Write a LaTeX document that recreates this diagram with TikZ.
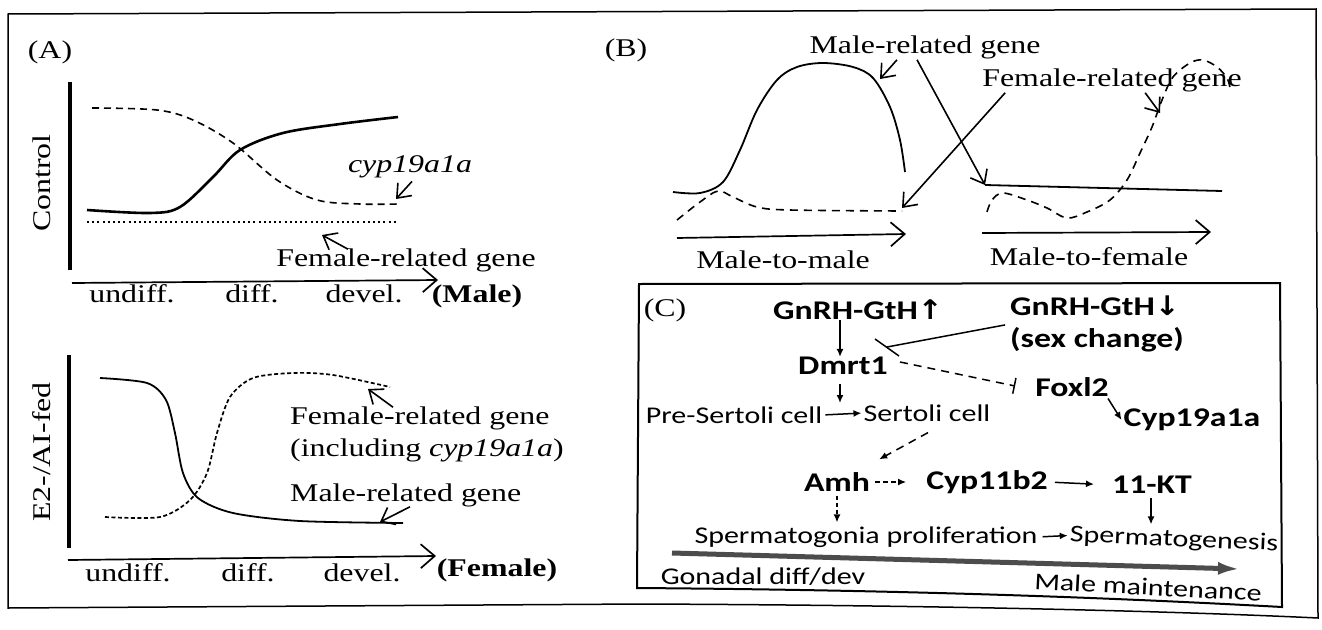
\documentclass[tikz,border=0pt]{standalone}
\usepackage{fontspec}
\setmainfont{Liberation Serif}[FakeStretch=1.25]
\newfontfamily\calfont{Carlito}[FakeStretch=1.25]
\newfontfamily\symfont{DejaVu Sans}[FakeStretch=1.1]
\usetikzlibrary{arrows.meta,calc}

\begin{document}
\begin{tikzpicture}[x=1pt,y=-1pt,
  serif/.style={font=\fontsize{25.5}{31}\selectfont, inner sep=0pt},
  bsans/.style={font=\calfont\bfseries\fontsize{27}{32}\selectfont, inner sep=0pt},
  rsans/.style={font=\calfont\fontsize{24}{28}\selectfont, inner sep=0pt},
  barb/.style={-{Straight Barb[length=12pt,width=19pt]}, line width=1.6pt},
  axisarrow/.style={-{Straight Barb[length=14pt,width=24pt]}, line width=1.7pt},
  yaxis/.style={line width=4pt},
  curve/.style={line width=1.8pt},
  thickcurve/.style={line width=2.6pt},
  dashA/.style={line width=1.6pt, dash pattern=on 7pt off 5pt},
  dashB/.style={line width=1.7pt, dash pattern=on 4pt off 2.5pt},
  dashC/.style={line width=1.6pt, dash pattern=on 8pt off 6pt},
  arrC/.style={-{Latex[length=8pt,width=7pt]}, line width=1.5pt},
  inhib/.style={-{Bar[width=16pt]}, line width=1.5pt},
]
\useasboundingbox (0,0) rectangle (1322,629);
\fill[white] (0,0) rectangle (1322,629);

% outer frame of the figure
\draw[line width=1.5pt] (8,14) -- (1316,9) -- (1318,618)
  .. controls (1150,610) and (900,605) .. (640,604) -- (8,608) -- cycle;

% ---------------- panel A, control ----------------
\node[serif] (labA) at (50,52) {(A)};
\draw[yaxis] (70,82) -- (70,270);
\node[serif, rotate=90] (ctrl) at (42,183) {Control};
\draw[dashA] plot[smooth, tension=0.55] coordinates
  {(92,108) (157,110) (193,120) (233,143) (277,180) (317,200) (360,204) (398,204)};
\draw[thickcurve] plot[smooth, tension=0.55] coordinates
  {(87,210) (150,213) (180,207) (213,177) (240,150) (283,133) (340,124) (398,117)};
\draw[line width=2pt, dash pattern=on 2pt off 3.2pt] (87,222) -- (398,222);
\coordinate (cypP) at (396,199);
\coordinate (femP) at (322,235);
\node[serif] (cyp) at (410,167) {\itshape cyp19a1a};
\draw[barb] ([xshift=2pt,yshift=-3pt]cyp.south) -- (cypP);
\node[serif] (femA) at (406,260) {Female-related gene};
\draw[barb] ([xshift=-58pt,yshift=-1pt]femA.north) -- (femP);
\coordinate (a1s) at (72,283);
\coordinate (a1e) at (438,280);
\draw[axisarrow] (a1s) -- (a1e);
\node[serif] (u1) at (132,294) {undiff.};
\node[serif] (d1) at (252,294) {diff.};
\node[serif] (v1) at (364,294) {devel.};
\node[serif, font=\bfseries\fontsize{25.5}{31}\selectfont] (male) at (477,296) {(Male)};

% ---------------- panel A, E2-/AI-fed ----------------
\draw[yaxis] (69,355) -- (69,548);
\node[serif, rotate=90] (e2) at (42,452) {E2-/AI-fed};
\draw[curve] plot[smooth, tension=0.5] coordinates
  {(100,378) (147,383) (166,400) (175,433) (183,473) (198,498) (233,513) (300,521) (403,523)};
\draw[dashB] plot[smooth, tension=0.5] coordinates
  {(105,517) (160,517) (190,500) (207,473) (217,433) (230,397) (253,378) (293,373) (333,375) (390,387)};
\node[serif, anchor=west] (femB) at (290,418) {Female-related gene};
\node[serif, anchor=west] (incl) at (290,450) {(including \textit{cyp19a1a})};
\node[serif, anchor=west] (maleB) at (290,495) {Male-related gene};
\coordinate (femBP) at (368,389);
\coordinate (maleBP) at (380,522);
\draw[barb] ([xshift=103pt,yshift=-1pt]femB.north west) -- (femBP);
\draw[barb] ([xshift=120pt,yshift=0pt]maleB.south west) -- (maleBP);
\coordinate (a2s) at (68,560);
\coordinate (a2e) at (436,556);
\draw[axisarrow] (a2s) -- (a2e);
\node[serif] (u2) at (128,573) {undiff.};
\node[serif] (d2) at (248,573) {diff.};
\node[serif] (v2) at (362,573) {devel.};
\node[serif, font=\bfseries\fontsize{25.5}{31}\selectfont] (female) at (497,570) {(Female)};

% ---------------- panel B ----------------
\node[serif] (labB) at (626,50) {(B)};
\draw[curve] plot[smooth, tension=0.55] coordinates
  {(673,192) (700,193) (723,182) (740,150) (757,110) (777,80) (797,67) (823,63)
   (853,67) (873,78) (890,107) (900,140) (905,172)};
\draw[dashC] plot[smooth, tension=0.55] coordinates
  {(677,220) (700,202) (718,191) (733,197) (757,207) (790,210) (902,211)};
\coordinate (mtf) at (985,185);
\draw[curve] (mtf) -- (1222,191);
\draw[dashC] plot[smooth, tension=0.55] coordinates
  {(987,212) (992,200) (1003,193) (1027,200) (1047,208) (1067,218) (1087,212)
   (1110,200) (1127,180) (1140,153) (1152,127) (1162,100) (1173,77) (1190,63)
   (1203,60) (1217,67) (1227,78) (1230,88)};
\node[serif] (mB) at (925,47) {Male-related gene};
\node[serif] (fB) at (1112,80) {Female-related gene};
\coordinate (bellP) at (880,79);
\coordinate (mmEnd) at (902,208);
\coordinate (peakP) at (1160,113);
\draw[barb] ([xshift=-28pt,yshift=-1pt]mB.south) -- (bellP);
\draw[barb] ([xshift=-8pt,yshift=-1pt]mB.south) -- (mtf);
\draw[barb] ([xshift=23pt,yshift=-1pt]fB.south west) -- (mmEnd);
\draw[barb] ([xshift=163pt,yshift=-1pt]fB.south west) -- (peakP);
\coordinate (b1s) at (677,238);
\coordinate (b1e) at (906,234);
\coordinate (b2s) at (982,233);
\coordinate (b2e) at (1211,232);
\draw[axisarrow] (b1s) -- (b1e);
\draw[axisarrow] (b2s) -- (b2e);
\node[serif] (mtm) at (783,260) {Male-to-male};
\node[serif] (mtfl) at (1089,257) {Male-to-female};

% ---------------- panel C ----------------
\draw[line width=2pt] (639,284) -- (1280,283) -- (1282,607)
  .. controls (1100,597) and (900,590) .. (637,588) -- cycle;
\node[serif] (labC) at (665,310) {(C)};
\node[bsans] (gup) at (858,310) {GnRH-GtH{\symfont\bfseries ↑}};
\node[bsans, anchor=west, align=left] (gdn) at (1010,324)
  {GnRH-GtH{\symfont\bfseries ↓}\\(sex change)};
\node[bsans] (dmrt) at (843,366) {Dmrt1};
\node[rsans] (pre) at (734,415) {Pre-Sertoli cell};
\node[rsans] (sert) at (927,413) {Sertoli cell};
\node[bsans] (foxl) at (1072,387) {Foxl2};
\node[bsans] (cyp19) at (1192,420) {Cyp19a1a};
\node[bsans] (amh) at (837,482) {Amh};
\node[bsans] (cyp11) at (987,482) {Cyp11b2};
\node[bsans] (kt) at (1152,485) {11-KT};
\node[rsans] (sgp) at (866,537) {Spermatogonia proliferation};
\node[rsans, rotate=-2.5] (sgen) at (1174,540) {Spermatogenesis};
\node[rsans] (gon) at (763,577) {Gonadal diff/dev};
\node[rsans, rotate=-3] (mm) at (1148,587) {Male maintenance};

\coordinate (trans) at ($(pre.east)!0.5!(sert.west)$);
\draw[arrC] ([xshift=-18pt]gup.south) -- ([xshift=-3pt]dmrt.north);
\draw[arrC, shorten <=9pt, shorten >=11pt] ([xshift=-3pt]dmrt.south) -- ([xshift=-3pt]dmrt.south |- trans);
\draw[arrC, shorten <=3pt, shorten >=2pt] (pre.east) -- (sert.west);
\draw[arrC, dashC, line width=1.5pt] ([xshift=1pt,yshift=-11pt]sert.south) -- ([xshift=9pt,yshift=13pt]amh.north east);

% GnRH-GtH decrease blocks the Dmrt1 route; Dmrt1 in turn blocks Foxl2
\coordinate (barA) at (875,339);
\coordinate (barB) at (899,356);
\coordinate (barM) at (887,347);
\draw[line width=1.5pt, shorten <=5pt] (gdn.west) -- (barM);
\draw[line width=1.5pt] (barA) -- (barB);
\draw[inhib, dashC, line width=1.5pt] ([xshift=1pt,yshift=-6pt]barB) -- ([xshift=-20pt,yshift=1pt]foxl.west);
\draw[arrC, shorten <=2pt] ([xshift=-2pt]foxl.south east) -- ([xshift=-2pt]cyp19.west);

\draw[arrC, dash pattern=on 5pt off 3pt, shorten <=5pt, shorten >=20pt] (amh.east) -- (cyp11.west);
\draw[arrC, shorten <=7pt, shorten >=18pt] (cyp11.east) -- (kt.west);
\draw[arrC, dash pattern=on 4pt off 3pt, shorten <=4pt, shorten >=4pt] (amh.south) -- (amh.south |- sgp.north);
\draw[arrC, shorten <=4pt, shorten >=2pt] ([xshift=-1pt]kt.south) -- ([xshift=-1pt]kt.south |- sgp.north);
\draw[arrC, shorten <=5pt, shorten >=2pt] (sgp.east) -- (sgen.west);

% timeline of gonadal development
\coordinate (tlS) at (672,553);
\coordinate (tlE) at (1240,569);
\draw[line width=5pt, black!70, -{Latex[length=22pt,width=13pt]}] (tlS) -- (tlE);
\end{tikzpicture}
\end{document}
